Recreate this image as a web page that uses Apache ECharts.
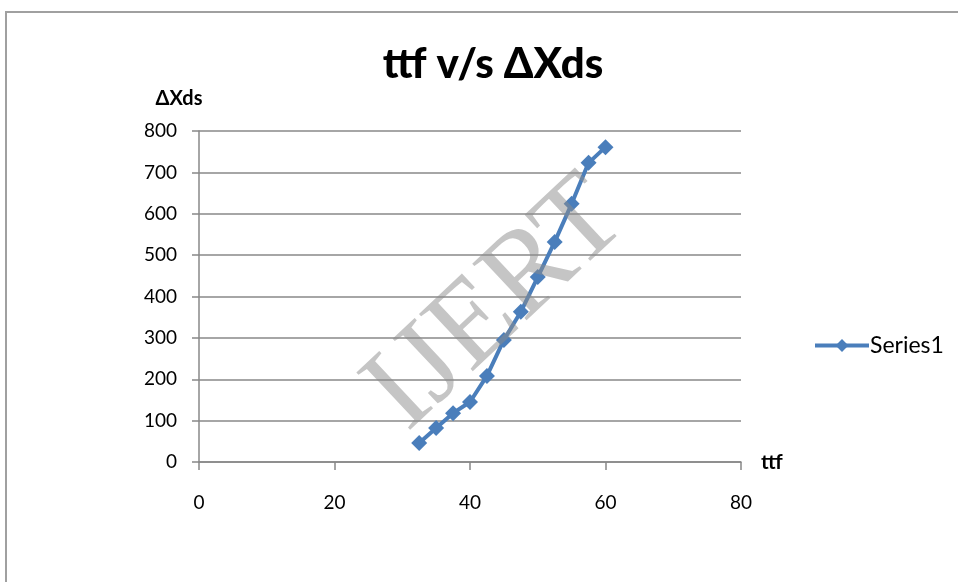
<!DOCTYPE html>
<html>
<head>
<meta charset="utf-8">
<script src="https://cdn.jsdelivr.net/npm/echarts@6/dist/echarts.min.js"></script>
<style>
  html, body { margin: 0; padding: 0; background: #fff; }
  #chart { width: 958px; height: 582px; }
</style>
</head>
<body>
<div id="chart"></div>
<script>
// ttf v/s ΔXds scatter-line chart

const chart = echarts.init(document.getElementById('chart'))

// data
const ttf = [32.5, 35, 37.5, 40, 42.5, 45, 47.5, 50, 52.5, 55, 57.5, 60]
const dXds = [46, 82, 118, 145, 208, 295, 363, 447, 532, 624, 723, 761]
const xTicks = [0, 20, 40, 60, 80]
const yTicks = [0, 100, 200, 300, 400, 500, 600, 700, 800]

const points = ttf.map((t, i) => [t, dXds[i]])
const font = 'Lato, "Open Sans", sans-serif'

const option = {
  backgroundColor: '#fff',
  animation: false,
  title: {
    text: 'ttf v/s ΔXds',
    left: 488,
    top: 38,
    textAlign: 'center',
    textStyle: { fontFamily: font, fontSize: 42, fontWeight: 900, color: '#000' }
  },
  legend: {
    left: 808,
    top: 329,
    itemWidth: 54,
    itemHeight: 16,
    itemGap: 4,
    lineStyle: { width: 4, color: '#4a7ebb' },
    textStyle: { fontFamily: font, fontSize: 23, color: '#000', padding: [0, 0, 0, -4] },
    data: ['Series1']
  },
  grid: { left: 199, right: 217, top: 131, bottom: 120 },
  xAxis: {
    type: 'value',
    min: xTicks[0],
    max: xTicks[xTicks.length - 1],
    interval: 20,
    name: 'ttf',
    nameLocation: 'end',
    nameGap: 20,
    nameTextStyle: { fontFamily: font, fontSize: 21, fontWeight: 'bold', color: '#000', verticalAlign: 'middle', padding: [10, 0, 0, 0] },
    axisLine: { show: true, lineStyle: { color: '#888', width: 1.5 } },
    axisTick: { show: true, inside: false, length: 8, lineStyle: { color: '#888', width: 1.5 } },
    axisLabel: { fontFamily: font, fontSize: 19, color: '#000', margin: 31 },
    splitLine: { show: false }
  },
  yAxis: {
    type: 'value',
    min: yTicks[0],
    max: yTicks[yTicks.length - 1],
    interval: 100,
    name: 'ΔXds',
    nameLocation: 'end',
    nameGap: 22,
    nameTextStyle: { fontFamily: font, fontSize: 20, fontWeight: 'bold', color: '#000', align: 'center', padding: [0, 40, 0, 0] },
    axisLine: { show: true, lineStyle: { color: '#888', width: 1.5 } },
    axisTick: { show: true, length: 7, lineStyle: { color: '#888', width: 1.5 } },
    axisLabel: { fontFamily: font, fontSize: 19, color: '#000', margin: 22 },
    splitLine: { show: true, lineStyle: { color: '#888', width: 1.5 } }
  },
  series: [
    {
      name: 'Series1',
      type: 'line',
      data: points,
      symbol: 'diamond',
      symbolSize: 16,
      lineStyle: { color: '#4a7ebb', width: 4 },
      itemStyle: { color: '#4a7ebb' },
      z: 3
    }
  ],
  graphic: [
    // outer chart frame
    {
      type: 'rect',
      shape: { x: 6, y: 12, width: 1000, height: 700 },
      style: { fill: 'none', stroke: '#a0a0a0', lineWidth: 2 },
      silent: true
    },
    // IJERT watermark
    {
      type: 'text',
      x: 497,
      y: 305,
      rotation: Math.PI * 0.24,
      style: {
        text: 'IJERT',
        fontFamily: '"Liberation Serif", serif',
        fontSize: 120,
        fill: 'rgba(140,140,140,0.5)',
        align: 'center',
        verticalAlign: 'middle'
      },
      z: 10,
      silent: true
    }
  ]
}

chart.setOption(option)
</script>
</body>
</html>
